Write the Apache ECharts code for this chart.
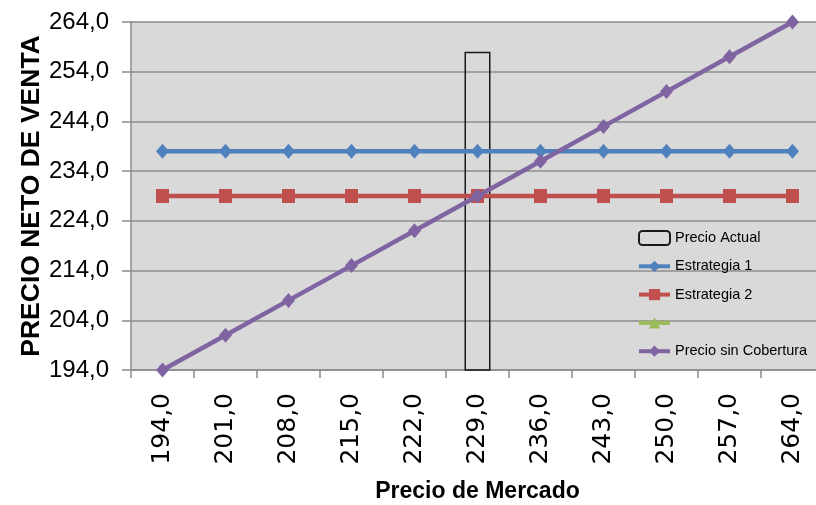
<!DOCTYPE html>
<html>
<head>
<meta charset="utf-8">
<script src="https://cdn.jsdelivr.net/npm/echarts@6/dist/echarts.min.js"></script>
<style>
  html, body { margin: 0; padding: 0; background: #fff; overflow: hidden; }
  #chart { width: 816px; height: 505px; }
</style>
</head>
<body>
<div id="chart"></div>
<script>
// Precio de mercado (categorías del eje X)
const precios = [194, 201, 208, 215, 222, 229, 236, 243, 250, 257, 264];
// Series de precio neto de venta
const precioActual = [null, null, null, null, null, 258, null, null, null, null, null];
const estrategia1 = [238, 238, 238, 238, 238, 238, 238, 238, 238, 238, 238];
const estrategia2 = [229, 229, 229, 229, 229, 229, 229, 229, 229, 229, 229];
const serieVacia = [];
const sinCobertura = [194, 201, 208, 215, 222, 229, 236, 243, 250, 257, 264];
// Escala del eje Y
const yMin = 194, yMax = 264, yPaso = 10;

const fmt = v => Number(v).toFixed(1).replace('.', ',');
const sans = "'Liberation Sans', Arial, sans-serif";

const chart = echarts.init(document.getElementById('chart'), null, { renderer: 'canvas' });
chart.setOption({
  animation: false,
  backgroundColor: '#ffffff',
  grid: {
    left: 131, top: 22, right: -8, bottom: 135,
    show: true, backgroundColor: '#d9d9d9', borderWidth: 0,
    containLabel: false, outerBoundsMode: 'none'
  },
  legend: {
    orient: 'vertical',
    left: 637, top: 229,
    padding: 0,
    itemWidth: 31, itemHeight: 14, itemGap: 10.3,
    lineStyle: { width: 4 },
    textStyle: { fontFamily: sans, fontSize: 14.5, color: '#000', lineHeight: 18 },
    data: ['Precio Actual', 'Estrategia 1', 'Estrategia 2', ' ', 'Precio sin Cobertura']
  },
  xAxis: {
    type: 'category',
    data: precios.map(String),
    boundaryGap: true,
    name: 'Precio de Mercado',
    nameLocation: 'middle',
    nameGap: 110,
    nameMoveOverlap: false,
    nameTextStyle: { fontFamily: sans, fontWeight: 'bold', fontSize: 23, color: '#000' },
    axisLine: { show: true, lineStyle: { color: '#8c8c8c', width: 1.5 } },
    axisTick: { show: true, length: 8, lineStyle: { color: '#8c8c8c', width: 1.5 } },
    axisLabel: {
      rotate: 90, margin: 23, formatter: fmt,
      fontFamily: "'DejaVu Sans', sans-serif", fontSize: 25, color: '#000'
    },
    splitLine: { show: false }
  },
  yAxis: {
    type: 'value',
    min: yMin, max: yMax, interval: yPaso,
    name: 'PRECIO NETO DE VENTA',
    nameLocation: 'middle',
    nameRotate: 90,
    nameGap: 86,
    nameMoveOverlap: false,
    nameTextStyle: { fontFamily: sans, fontWeight: 'bold', fontSize: 26.5, color: '#000' },
    axisLine: { show: true, lineStyle: { color: '#8c8c8c', width: 1.5 } },
    axisTick: { show: true, length: 9, lineStyle: { color: '#8c8c8c', width: 1.5 } },
    axisLabel: { margin: 22, formatter: fmt, fontFamily: sans, fontSize: 24, color: '#000' },
    splitLine: { show: true, lineStyle: { color: '#8c8c8c', width: 1.5 } }
  },
  series: [
    {
      name: 'Precio Actual', type: 'bar', data: precioActual,
      barWidth: 26,
      itemStyle: { color: 'rgba(0,0,0,0)', borderColor: '#1a1a1a', borderWidth: 1.5 },
      z: 1
    },
    {
      name: 'Estrategia 1', type: 'line', data: estrategia1,
      symbol: 'diamond', symbolSize: [13, 15], showAllSymbol: true,
      lineStyle: { color: '#4f81bd', width: 4.5 }, itemStyle: { color: '#4f81bd' }, z: 3
    },
    {
      name: 'Estrategia 2', type: 'line', data: estrategia2,
      symbol: 'rect', symbolSize: [13, 14], showAllSymbol: true,
      lineStyle: { color: '#c0504d', width: 4.5 }, itemStyle: { color: '#c0504d' }, z: 4
    },
    {
      name: ' ', type: 'line', data: serieVacia,
      symbol: 'triangle', symbolSize: [12, 12],
      lineStyle: { color: '#9bbb59', width: 4.5 }, itemStyle: { color: '#9bbb59' }, z: 5
    },
    {
      name: 'Precio sin Cobertura', type: 'line', data: sinCobertura,
      symbol: 'diamond', symbolSize: [13, 15], showAllSymbol: true,
      lineStyle: { color: '#8064a2', width: 4.5 }, itemStyle: { color: '#8064a2' }, z: 6
    }
  ]
});
</script>
</body>
</html>
